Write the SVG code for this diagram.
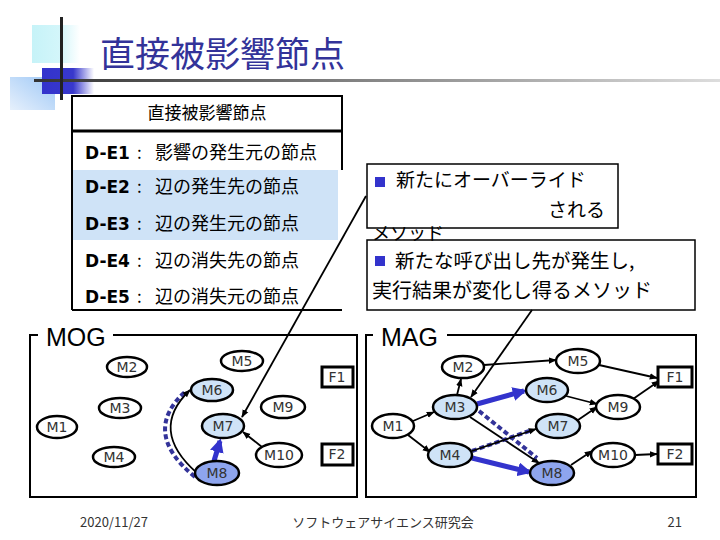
<svg xmlns="http://www.w3.org/2000/svg" width="720" height="540" viewBox="0 0 720 540">
<style>
.jp{font-family:"Noto Sans CJK JP","Noto Sans",sans-serif;}
.de{font-family:"DejaVu Sans",sans-serif;font-weight:bold;}
.nd{fill:#fff;stroke:#000;stroke-width:2.5;}
.lb{fill:#cfe3f7;stroke:#000;stroke-width:2.5;}
.db{fill:#8ea5ee;stroke:#000;stroke-width:2.5;}
.fb{fill:#fff;stroke:#000;stroke-width:3;}
.nl{font-family:"DejaVu Sans",sans-serif;font-size:14px;fill:#333;text-anchor:middle;}
.e{fill:none;stroke:#000;stroke-width:1.8;marker-end:url(#ak);}
.bt{fill:none;stroke:#3333cc;stroke-width:5;marker-end:url(#ab);}
.bd{fill:none;stroke:#333399;stroke-width:4;stroke-dasharray:5 3;}
.frame{fill:none;stroke:#000;stroke-width:2;}
.box{fill:#fff;stroke:#000;stroke-width:1.5;}
</style>
<defs>
<marker id="ak" viewBox="0 0 10 10" refX="9" refY="5" markerWidth="8" markerHeight="8" markerUnits="userSpaceOnUse" orient="auto"><path d="M0,1 L10,5 L0,9 z" fill="#000"/></marker>
<marker id="ab" viewBox="0 0 10 10" refX="8" refY="5" markerWidth="14" markerHeight="14" markerUnits="userSpaceOnUse" orient="auto"><path d="M0,0 L10,5 L0,10 z" fill="#3333cc"/></marker>
<linearGradient id="gcy" x1="0" y1="0" x2="1" y2="0"><stop offset="0" stop-color="#c6f3f8"/><stop offset="0.6" stop-color="#d4f6fa"/><stop offset="1" stop-color="#ffffff"/></linearGradient>
<linearGradient id="gbl" x1="0" y1="0" x2="1" y2="0"><stop offset="0" stop-color="#3333cc"/><stop offset="0.6" stop-color="#3838cc"/><stop offset="1" stop-color="#ffffff"/></linearGradient>
<linearGradient id="glb" x1="0" y1="1" x2="1" y2="0"><stop offset="0" stop-color="#e6f0fc"/><stop offset="1" stop-color="#9ec8f6"/></linearGradient>
<linearGradient id="gln" x1="0" y1="0" x2="1" y2="0"><stop offset="0" stop-color="#333333"/><stop offset="0.5" stop-color="#888888"/><stop offset="1" stop-color="#dddddd"/></linearGradient>
</defs>
<rect width="720" height="540" fill="#fff"/>
<g id="title-deco">
<rect x="32" y="25" width="48" height="38" fill="url(#gcy)"/>
<rect x="10" y="77" width="45" height="33" fill="url(#glb)"/>
<rect x="42" y="68" width="52" height="26" fill="url(#gbl)"/>
<rect x="34" y="79" width="686" height="3" fill="url(#gln)"/>
<rect x="60" y="17" width="3" height="83" fill="#222"/>
</g>
<text class="jp" x="100" y="67" font-size="35" fill="#333399">直接被影響節点</text>
<g id="table">
<rect x="72" y="170" width="266" height="70" fill="#cfe3f7"/>
<rect x="72" y="96" width="270" height="35" fill="none" stroke="#000" stroke-width="2"/>
<line x1="72" y1="131" x2="342" y2="131" stroke="#000" stroke-width="3"/>
<line x1="342" y1="131" x2="342" y2="170" stroke="#000" stroke-width="2"/>
<line x1="72" y1="96" x2="72" y2="310" stroke="#000" stroke-width="2"/>
<line x1="72" y1="310" x2="342" y2="310" stroke="#000" stroke-width="2"/>
<text class="jp" x="207" y="119" font-size="17" text-anchor="middle">直接被影響節点</text>
<text x="85" y="159" font-size="17"><tspan class="de">D-E1</tspan><tspan class="jp" x="137">:</tspan><tspan class="jp" x="155" font-size="18">影響の発生元の節点</tspan></text>
<text x="85" y="193" font-size="17"><tspan class="de">D-E2</tspan><tspan class="jp" x="137">:</tspan><tspan class="jp" x="155" font-size="18">辺の発生先の節点</tspan></text>
<text x="85" y="230" font-size="17"><tspan class="de">D-E3</tspan><tspan class="jp" x="137">:</tspan><tspan class="jp" x="155" font-size="18">辺の発生元の節点</tspan></text>
<text x="85" y="267" font-size="17"><tspan class="de">D-E4</tspan><tspan class="jp" x="137">:</tspan><tspan class="jp" x="155" font-size="18">辺の消失先の節点</tspan></text>
<text x="85" y="303" font-size="17"><tspan class="de">D-E5</tspan><tspan class="jp" x="137">:</tspan><tspan class="jp" x="155" font-size="18">辺の消失元の節点</tspan></text>
</g>
<g id="callout1">
<rect class="box" x="367" y="164" width="251" height="64"/>
<rect x="375" y="177" width="10" height="10" fill="#3333cc"/>
<text class="jp" x="396" y="187" font-size="19">新たにオーバーライド</text>
<text class="jp" x="548" y="217" font-size="19">される</text>
</g>
<g id="callout2">
<rect class="box" x="367" y="240" width="328" height="70"/>
<rect x="375" y="256" width="10" height="10" fill="#3333cc"/>
<text class="jp" x="395" y="268" font-size="19.5">新たな呼び出し先が発生し,</text>
<text class="jp" x="372" y="298" font-size="20">実行結果が変化し得るメソッド</text>
</g>
<text class="jp" x="372" y="240" font-size="18">メソッド</text>
<g id="mog-frame">
<path class="frame" d="M38,335 H30 V497 H357 V335 H113"/>
<text x="46" y="346" font-family="'Liberation Sans',Arial,sans-serif" font-size="25">MOG</text>
</g>
<g id="mag-frame">
<path class="frame" d="M373,335 H366 V497 H696 V335 H447"/>
<text x="381" y="346" font-family="'Liberation Sans',Arial,sans-serif" font-size="25">MAG</text>
</g>
<g id="connectors">
<line class="e" x1="366" y1="196" x2="242" y2="417"/>
<line class="e" x1="532" y1="310" x2="471" y2="397"/>
<line class="e" x1="262" y1="447" x2="243" y2="432"/>
<line class="bt" x1="214" y1="461" x2="220" y2="441"/>
<path class="bd" d="M195,477 Q140,432 186,391"/>
<path class="e" d="M197,473 Q148,430 190,390"/>
<line class="e" x1="413" y1="421" x2="434" y2="412"/>
<line class="e" x1="408" y1="435" x2="430" y2="452"/>
<line class="e" x1="457" y1="395" x2="461" y2="379"/>
<line class="e" x1="484" y1="365" x2="556" y2="360"/>
<line class="e" x1="599" y1="365" x2="657" y2="378"/>
<line class="e" x1="566" y1="396" x2="597" y2="404"/>
<line class="e" x1="578" y1="420" x2="597" y2="407"/>
<line class="e" x1="633" y1="399" x2="659" y2="381"/>
<line class="e" x1="571" y1="465" x2="592" y2="451"/>
<line class="e" x1="635" y1="455" x2="657" y2="454"/>
<line class="e" x1="470" y1="417" x2="539" y2="463"/>
<line class="bd" x1="479" y1="411" x2="537" y2="458"/>
<line class="bd" x1="472" y1="451" x2="532" y2="430"/>
<line class="e" x1="472" y1="451" x2="536" y2="429"/>
<line class="bt" x1="477" y1="404" x2="524" y2="391"/>
<line class="bt" x1="472" y1="458" x2="529" y2="472"/>
</g>
<g id="mog-M1"><ellipse class="nd" cx="57" cy="427" rx="20" ry="11"/><text class="nl" x="57" y="432">M1</text></g>
<g id="mog-M2"><ellipse class="nd" cx="127" cy="367" rx="20" ry="10"/><text class="nl" x="127" y="372">M2</text></g>
<g id="mog-M3"><ellipse class="nd" cx="120" cy="408" rx="21" ry="10"/><text class="nl" x="120" y="413">M3</text></g>
<g id="mog-M4"><ellipse class="nd" cx="114" cy="457" rx="21" ry="10"/><text class="nl" x="114" y="462">M4</text></g>
<g id="mog-M5"><ellipse class="nd" cx="242" cy="361" rx="21" ry="10"/><text class="nl" x="242" y="366">M5</text></g>
<g id="mog-M6"><ellipse class="lb" cx="212" cy="390" rx="21" ry="11"/><text class="nl" x="212" y="395">M6</text></g>
<g id="mog-M7"><ellipse class="lb" cx="223" cy="426" rx="21" ry="12"/><text class="nl" x="223" y="431">M7</text></g>
<g id="mog-M8"><ellipse class="db" cx="217" cy="473" rx="22" ry="12"/><text class="nl" x="217" y="478">M8</text></g>
<g id="mog-M9"><ellipse class="nd" cx="283" cy="407" rx="22" ry="11"/><text class="nl" x="283" y="412">M9</text></g>
<g id="mog-M10"><ellipse class="nd" cx="279" cy="455" rx="23" ry="12"/><text class="nl" x="279" y="460">M10</text></g>
<g id="mog-F1"><rect class="fb" x="322" y="367" width="31" height="20"/><text class="nl" x="337" y="382">F1</text></g>
<g id="mog-F2"><rect class="fb" x="322" y="444" width="31" height="21"/><text class="nl" x="337" y="459">F2</text></g>
<g id="mag-M1"><ellipse class="nd" cx="393" cy="426" rx="21" ry="12"/><text class="nl" x="393" y="431">M1</text></g>
<g id="mag-M2"><ellipse class="nd" cx="463" cy="367" rx="21" ry="11"/><text class="nl" x="463" y="372">M2</text></g>
<g id="mag-M3"><ellipse class="lb" cx="455" cy="407" rx="22" ry="12"/><text class="nl" x="455" y="412">M3</text></g>
<g id="mag-M4"><ellipse class="lb" cx="450" cy="455" rx="22" ry="12"/><text class="nl" x="450" y="460">M4</text></g>
<g id="mag-M5"><ellipse class="nd" cx="578" cy="361" rx="22" ry="12"/><text class="nl" x="578" y="366">M5</text></g>
<g id="mag-M6"><ellipse class="lb" cx="547" cy="390" rx="21" ry="12"/><text class="nl" x="547" y="395">M6</text></g>
<g id="mag-M7"><ellipse class="lb" cx="558" cy="426" rx="22" ry="12"/><text class="nl" x="558" y="431">M7</text></g>
<g id="mag-M8"><ellipse class="db" cx="552" cy="473" rx="22" ry="12"/><text class="nl" x="552" y="478">M8</text></g>
<g id="mag-M9"><ellipse class="nd" cx="618" cy="407" rx="22" ry="12"/><text class="nl" x="618" y="412">M9</text></g>
<g id="mag-M10"><ellipse class="nd" cx="613" cy="455" rx="22" ry="12"/><text class="nl" x="613" y="460">M10</text></g>
<g id="mag-F1"><rect class="fb" x="658" y="367" width="34" height="20"/><text class="nl" x="675" y="382">F1</text></g>
<g id="mag-F2"><rect class="fb" x="658" y="444" width="34" height="20"/><text class="nl" x="675" y="459">F2</text></g>
<g id="footer" class="jp" font-size="13" fill="#333">
<text x="80" y="527">2020/11/27</text>
<text x="383" y="527" text-anchor="middle">ソフトウェアサイエンス研究会</text>
<text x="682" y="527" text-anchor="end">21</text>
</g>
</svg>
